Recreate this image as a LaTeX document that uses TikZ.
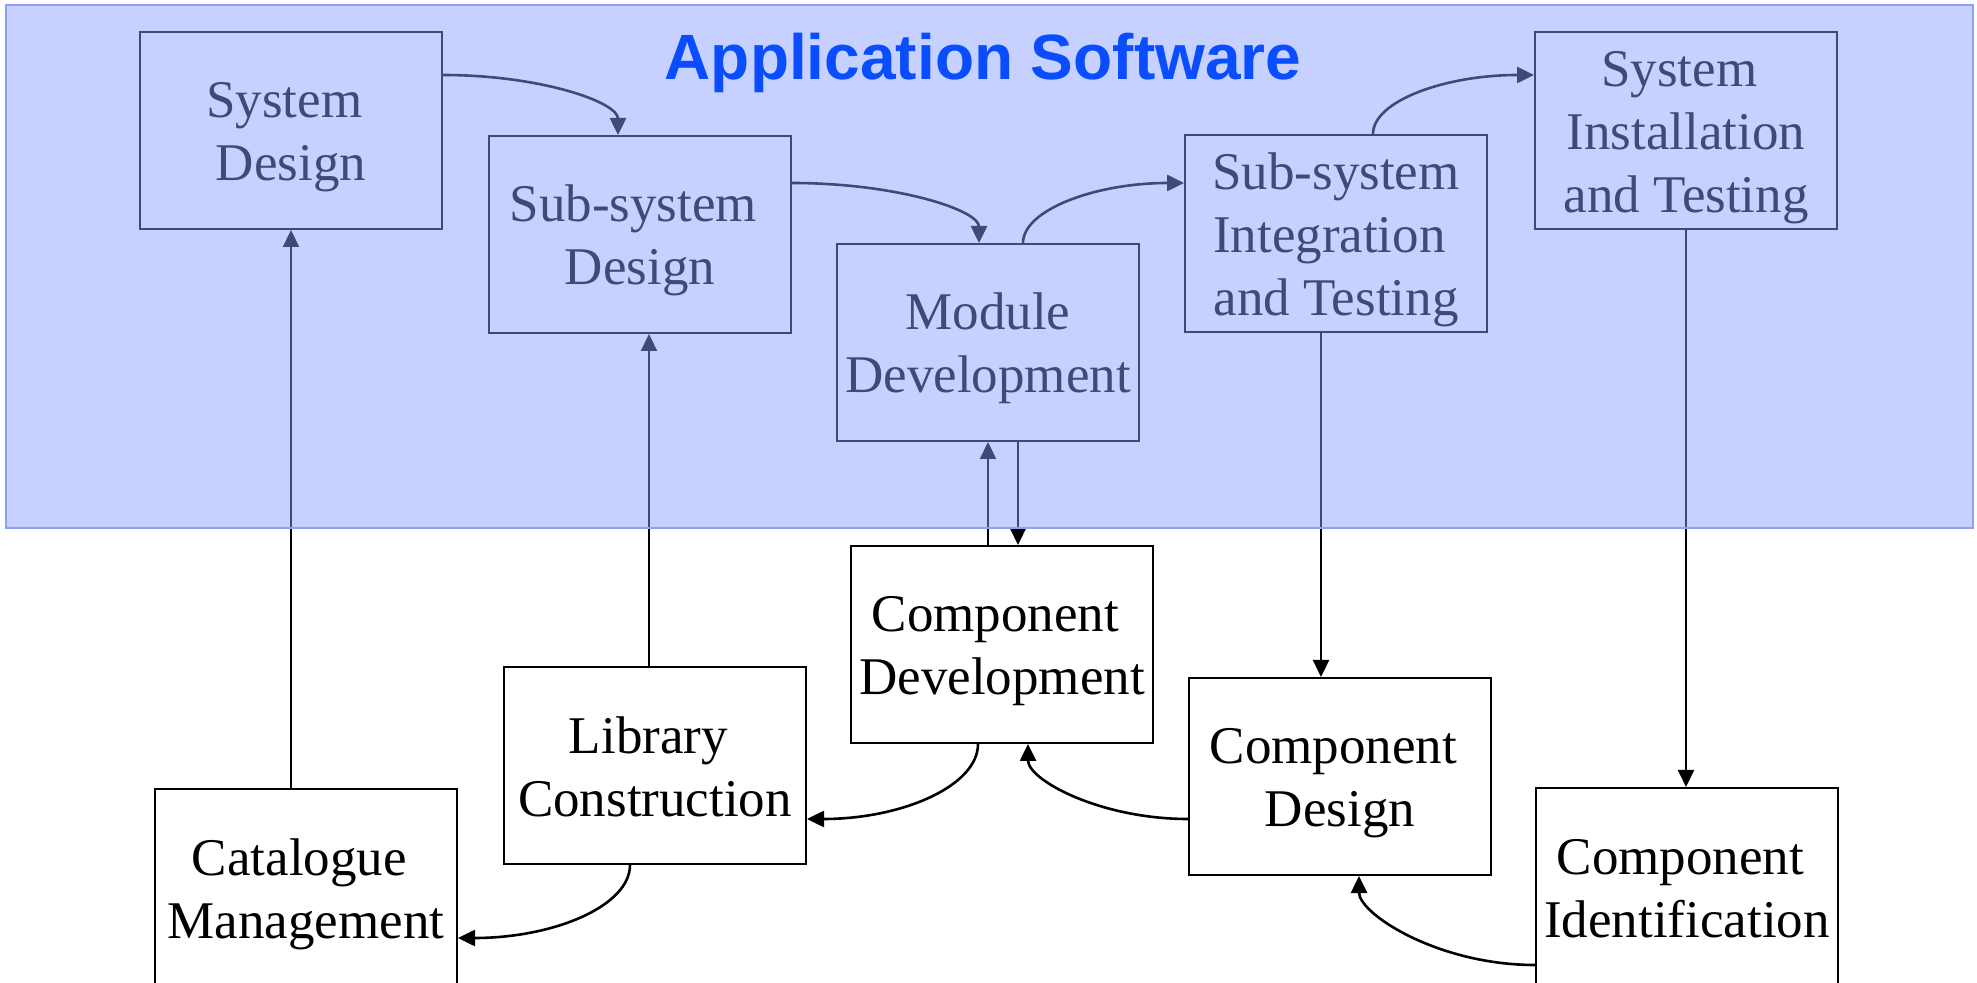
\documentclass[tikz,border=0pt]{standalone}
\usepackage{fontspec}
\setmainfont{Liberation Serif}
\newfontfamily\titlefont{Liberation Sans}
\usetikzlibrary{calc,arrows.meta}
\definecolor{overlayblue}{rgb}{0.53,0.62,1.0}
\definecolor{frameblue}{HTML}{8CA0F8}
\definecolor{titleblue}{HTML}{0A4DFF}
\newcommand{\tsp}{\kern0.25em}
\newcommand{\tstr}{\rule{0pt}{26pt}}
\newcommand{\bstr}{\rule[-7pt]{0pt}{7pt}}
\tikzset{
  stagebox/.style={draw, line width=1pt, minimum width=151pt, minimum height=98.5pt,
    inner sep=0pt, anchor=north west, align=center,
    font=\fontsize{26.5}{31.5}\selectfont},
  arr/.style={line width=1.1pt, -{Triangle[length=8.5pt,width=8pt]}},
  carr/.style={line width=1.3pt, -{Triangle[length=8.5pt,width=8pt]}}
}
\begin{document}
\begin{tikzpicture}[x=0.5pt,y=-0.5pt]
\useasboundingbox (0,0) rectangle (1977,983);
% boxes
\node[stagebox] (sd)   at (139,31)  {\tstr System\tsp\\Design\bstr};
\node[stagebox] (ssd)  at (488,135) {\tstr Sub-system\tsp\\Design\bstr};
\node[stagebox] (md)   at (836,243) {\tstr Module\\Development\bstr};
\node[stagebox] (ssi)  at (1184,134) {\tstr Sub-system\\Integration\tsp\\and Testing\bstr};
\node[stagebox] (sit)  at (1534,31) {\tstr System\tsp\\Installation\\and Testing\bstr};
\node[stagebox] (cdev) at (850,545) {\tstr Component\tsp\\Development\bstr};
\node[stagebox] (lib)  at (503,666) {\tstr Library\tsp\\Construction\bstr};
\node[stagebox] (cat)  at (154,788) {\tstr Catalogue\tsp\\Management\bstr};
\node[stagebox] (cdes) at (1188,677) {\tstr Component\tsp\\Design\bstr};
\node[stagebox] (cid)  at (1535,787) {\tstr Component\tsp\\Identification\bstr};
% helper coordinates
\coordinate (ssdb) at ($(ssd.south)+(9,0)$);
\coordinate (mdd)  at ($(md.south)+(30,0)$);
\coordinate (ssib) at ($(ssi.south)+(-15,0)$);
% straight connectors
\draw[arr] (sd.south |- cat.north) -- (sd.south);
\draw[arr] (ssdb |- lib.north) -- (ssdb);
\draw[arr] (md.south |- cdev.north) -- (md.south);
\draw[arr] (mdd) -- (mdd |- cdev.north);
\draw[arr] (ssib) -- (ssib |- cdes.north);
\draw[arr] (sit.south) -- (sit.south |- cid.north);
% curved connectors
\draw[carr] ($(sd.north east)+(0,44)$) .. controls +(97,0) and +(0,-33) .. ($(ssd.north west)+(130,0)$);
\draw[carr] ($(ssd.north east)+(0,48)$) .. controls +(104,0) and +(0,-33) .. ($(md.north west)+(143,0)$);
\draw[carr] ($(md.north west)+(187,0)$) .. controls +(0,-33) and +(-89,0) .. ($(ssi.north west)+(0,49)$);
\draw[carr] ($(ssi.north west)+(189,0)$) .. controls +(0,-33) and +(-89,0) .. ($(sit.north west)+(0,44)$);
\draw[carr] ($(cdev.south west)+(128,0)$) .. controls +(0,42) and +(95,0) .. ($(lib.north east)+(0,153)$);
\draw[carr] ($(lib.south west)+(127,0)$) .. controls +(0,41) and +(96,0) .. ($(cat.north east)+(0,150)$);
\draw[carr] ($(cdes.north west)+(0,142)$) .. controls +(-88,0) and +(0,36) .. ($(cdev.south west)+(178,0)$);
\draw[carr] ($(cid.north west)+(0,178)$) .. controls +(-97,0) and +(0,38) .. ($(cdes.south west)+(171,0)$);
% translucent application-software layer
\fill[overlayblue, fill opacity=0.47] (6,5) rectangle (1973,528);
\draw[frameblue, line width=1pt] (6,5) rectangle (1973,528);
\node[anchor=base, text=titleblue, font=\titlefont\bfseries\fontsize{32}{38}\selectfont] (title) at (983,80) {Application Software};
\end{tikzpicture}
\end{document}
